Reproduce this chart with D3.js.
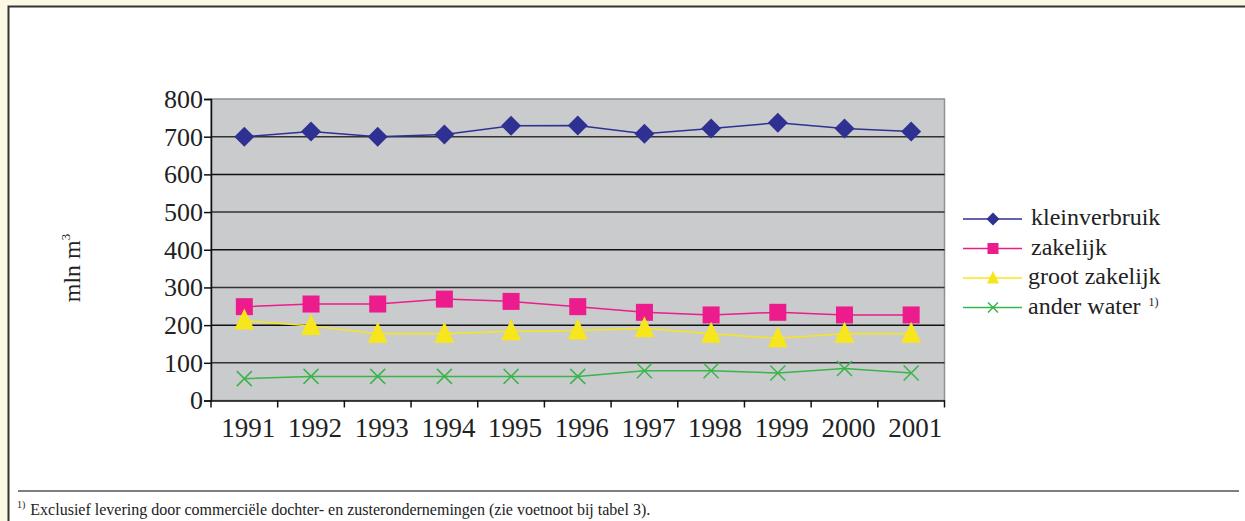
<!DOCTYPE html>
<html>
<head>
<meta charset="utf-8">
<script src="https://cdn.jsdelivr.net/npm/d3@7"></script>
<style>
  html, body { margin: 0; padding: 0; background: #fbf8e3; }
  svg { display: block; font-family: "Liberation Serif", "DejaVu Serif", serif; }
</style>
</head>
<body>
<div id="chart"></div>
<script>
// data
var years = ["1991", "1992", "1993", "1994", "1995", "1996", "1997", "1998", "1999", "2000", "2001"];
var kleinverbruik = [700, 714, 700, 706, 729, 730, 708, 722, 737, 722, 714];
var zakelijk = [249, 256, 256, 269, 263, 249, 234, 227, 234, 227, 227];
var grootZakelijk = [212, 198, 177, 177, 184, 186, 192, 177, 165, 177, 177];
var anderWater = [58, 64, 64, 64, 64, 64, 79, 79, 73, 85, 73];
var yTicks = [0, 100, 200, 300, 400, 500, 600, 700, 800];

var series = [
  { name: "kleinverbruik", values: kleinverbruik, color: "#2e3192", marker: "diamond" },
  { name: "zakelijk", values: zakelijk, color: "#ec1c8c", marker: "square" },
  { name: "groot zakelijk", values: grootZakelijk, color: "#f7e61c", marker: "triangle" },
  { name: "ander water", values: anderWater, color: "#39b54a", marker: "cross", note: "1)" }
];

var W = 1245, H = 521;
var svg = d3.select("#chart").append("svg")
        .attr("width", W)
        .attr("height", H);

// white panel
svg.append("rect")
        .attr("x", 8.5).attr("y", 6.5)
        .attr("width", W).attr("height", H)
        .attr("fill", "#fff")
        .attr("stroke", "#333")
        .attr("stroke-width", 2);

var plotL = 211, plotR = 944.5, plotT = 99, plotB = 400.5;

var x = d3.scaleBand().domain(years).range([plotL, plotR]);
var y = d3.scaleLinear().domain([0, 800]).range([plotB, plotT]);

// plot background
svg.append("rect")
        .attr("x", plotL).attr("y", plotT)
        .attr("width", plotR - plotL).attr("height", plotB - plotT)
        .attr("fill", "#cacbcd")
        .attr("stroke", "#8f9093")
        .attr("stroke-width", 1.5);

// grid
svg.append("g").selectAll("line")
        .data(yTicks.filter(function (d) { return d > 0 && d < 800; }))
        .enter().append("line")
        .attr("x1", plotL).attr("x2", plotR)
        .attr("y1", function (d) { return y(d); })
        .attr("y2", function (d) { return y(d); })
        .attr("stroke", function (d, i) { return i % 2 == 0 ? "#333" : "#111"; })
        .attr("stroke-width", 1.5);

// y axis
var yAxis = svg.append("g")
        .attr("transform", "translate(" + plotL + ",0)")
        .call(d3.axisLeft(y).tickValues(yTicks).tickSize(7).tickPadding(1));
yAxis.select(".domain").attr("stroke", "#111").attr("stroke-width", 1.5);
yAxis.selectAll(".tick line").attr("stroke", "#111").attr("stroke-width", 1.5);
yAxis.selectAll("text")
        .attr("font-size", 26)
        .attr("font-family", "Liberation Serif, serif")
        .attr("fill", "#222");

// x axis
var xAxis = svg.append("g")
        .attr("transform", "translate(0," + plotB + ")")
        .call(d3.axisBottom(x).tickSize(0).tickPadding(17));
xAxis.select(".domain").attr("stroke", "#111").attr("stroke-width", 1.5);
xAxis.selectAll("text")
        .attr("font-size", 27)
        .attr("font-family", "Liberation Serif, serif")
        .attr("fill", "#222")
        .attr("dx", 4);
// category dividers
svg.append("g").selectAll("line")
        .data(years.concat(["end"]))
        .enter().append("line")
        .attr("x1", function (d, i) { return plotL + i * x.bandwidth(); })
        .attr("x2", function (d, i) { return plotL + i * x.bandwidth(); })
        .attr("y1", plotB).attr("y2", plotB + 7)
        .attr("stroke", "#111")
        .attr("stroke-width", 1.5);

// y title
svg.append("text")
        .attr("transform", "translate(80,268) rotate(-90)")
        .attr("text-anchor", "middle")
        .attr("font-size", 24)
        .attr("fill", "#222")
        .text("mln m")
        .append("tspan")
        .attr("font-size", 13)
        .attr("dy", -10)
        .text("3");

var cx = function (i) { return x(years[i]) + x.bandwidth() / 2; };

var drawMarker = function (g, kind, color, px, py, s) {
    var h = s / 2;
    if (kind == "diamond") {
        g.append("path")
                .attr("d", "M" + px + "," + (py - h) + "L" + (px + h) + "," + py + "L" + px + "," + (py + h) + "L" + (px - h) + "," + py + "Z")
                .attr("fill", color);
    } else if (kind == "square") {
        g.append("rect")
                .attr("x", px - h).attr("y", py - h)
                .attr("width", s).attr("height", s)
                .attr("fill", color);
    } else if (kind == "triangle") {
        g.append("path")
                .attr("d", "M" + px + "," + (py - s * 0.6) + "L" + (px + h) + "," + (py + s * 0.45) + "L" + (px - h) + "," + (py + s * 0.45) + "Z")
                .attr("fill", color);
    } else {
        g.append("path")
                .attr("d", "M" + (px - h) + "," + (py - h) + "L" + (px + h) + "," + (py + h) + "M" + (px - h) + "," + (py + h) + "L" + (px + h) + "," + (py - h))
                .attr("stroke", color)
                .attr("stroke-width", 1.5)
                .attr("fill", "none");
    }
};

var line = d3.line()
        .x(function (d, i) { return cx(i); })
        .y(function (d) { return y(d); });

series.forEach(function (s) {
    var g = svg.append("g");
    g.append("path")
            .attr("d", line(s.values))
            .attr("fill", "none")
            .attr("stroke", s.color)
            .attr("stroke-width", 1.5);
    s.values.forEach(function (v, i) {
        var size = s.marker == "diamond" ? 20 : s.marker == "square" ? 17 : s.marker == "triangle" ? 20 : 15;
        drawMarker(g, s.marker, s.color, cx(i), y(v), size);
    });
});

// legend
var legend = svg.append("g");
series.forEach(function (s, i) {
    var ly = 219 + i * 29.5;
    legend.append("line")
            .attr("x1", 963).attr("x2", 1022)
            .attr("y1", ly).attr("y2", ly)
            .attr("stroke", s.color)
            .attr("stroke-width", 1.5);
    var size = s.marker == "diamond" ? 13 : s.marker == "square" ? 11 : s.marker == "triangle" ? 12 : 10;
    drawMarker(legend, s.marker, s.color, 993, ly, size);
    var t = legend.append("text")
            .attr("x", i < 2 ? 1031 : 1028)
            .attr("y", ly + 6)
            .attr("font-size", 24)
            .attr("fill", "#222")
            .text(s.name);
    if (s.note) {
        t.append("tspan")
                .attr("dx", 8).attr("dy", -8)
                .attr("font-size", 12)
                .text(s.note);
    }
});

// footnote
svg.append("line")
        .attr("x1", 18).attr("x2", 1239)
        .attr("y1", 491).attr("y2", 491)
        .attr("stroke", "#555")
        .attr("stroke-width", 1.5);
var fn = svg.append("text")
        .attr("x", 17).attr("y", 515)
        .attr("font-size", 16)
        .attr("fill", "#222");
fn.append("tspan").attr("font-size", 10).attr("dy", -7).text("1)");
fn.append("tspan").attr("dx", 5).attr("dy", 7)
        .text("Exclusief levering door commerciële dochter- en zusterondernemingen (zie voetnoot bij tabel 3).");
</script>
</body>
</html>
